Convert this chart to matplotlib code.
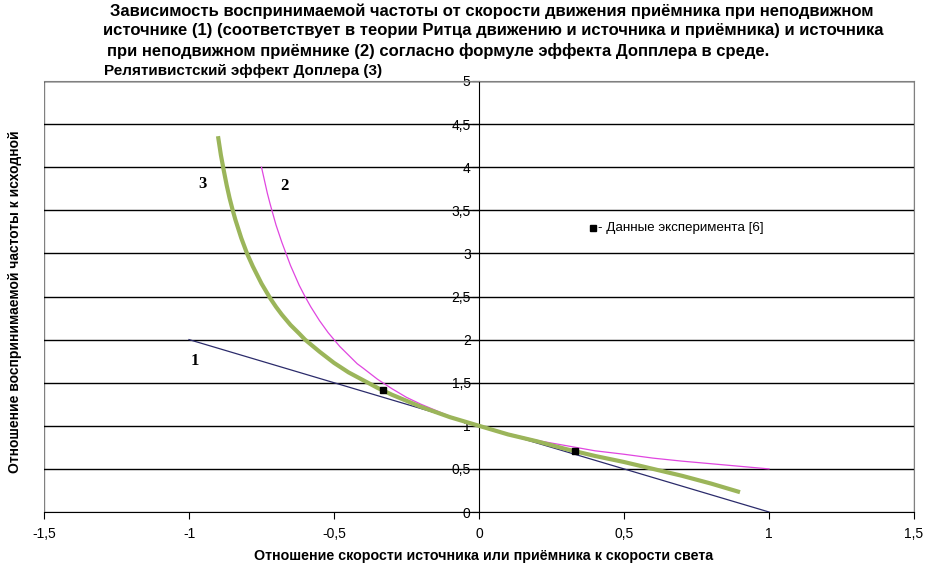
import matplotlib
matplotlib.use('Agg')
import matplotlib.pyplot as plt
from matplotlib.patches import Rectangle
from matplotlib.ticker import FuncFormatter

# values
# (1) moving receiver, source at rest
x1 = [-1.0, 1.0]
y1 = [2.0, 0.0]
# (2) moving source, receiver at rest
x2 = [-0.75, -0.74, -0.73, -0.72, -0.7, -0.68, -0.65, -0.62, -0.6, -0.58, -0.55, -0.52,
      -0.5, -0.48, -0.45, -0.42, -0.4, -0.35, -0.3, -0.25, -0.2, -0.15, -0.1, 0.0,
      0.1, 0.2, 0.3, 0.4, 0.5, 0.6, 0.7, 0.8, 0.9, 1.0]
y2 = [4.0, 3.85, 3.7, 3.57, 3.33, 3.13, 2.86, 2.63, 2.5, 2.38, 2.22, 2.08,
      2.0, 1.92, 1.82, 1.72, 1.67, 1.54, 1.43, 1.33, 1.25, 1.18, 1.11, 1.0,
      0.91, 0.83, 0.77, 0.71, 0.67, 0.625, 0.59, 0.56, 0.53, 0.5]
# (3) relativistic
x3 = [-0.9, -0.89, -0.88, -0.87, -0.86, -0.85, -0.84, -0.82, -0.8, -0.78, -0.75, -0.72,
      -0.7, -0.68, -0.65, -0.62, -0.6, -0.55, -0.5, -0.45, -0.4, -0.35, -0.3, -0.25,
      -0.2, -0.15, -0.1, 0.0, 0.1, 0.2, 0.3, 0.4, 0.5, 0.6, 0.7, 0.8, 0.9]
y3 = [4.36, 4.14, 3.96, 3.79, 3.64, 3.51, 3.39, 3.18, 3.0, 2.85, 2.65, 2.48,
      2.38, 2.29, 2.17, 2.07, 2.0, 1.86, 1.73, 1.62, 1.53, 1.44, 1.36, 1.29,
      1.22, 1.16, 1.1, 1.0, 0.9, 0.82, 0.73, 0.65, 0.58, 0.5, 0.42, 0.33, 0.23]
# experiment points
xe = [-0.33, 0.33]
ye = [1.42, 0.71]

xticks = [-1.5, -1, -0.5, 0, 0.5, 1, 1.5]
yticks = [0, 0.5, 1, 1.5, 2, 2.5, 3, 3.5, 4, 4.5, 5]

narrow = ['Liberation Sans Narrow', 'Liberation Sans', 'DejaVu Sans']
plt.rcParams['font.family'] = ['Liberation Sans', 'DejaVu Sans']

fig = plt.figure(figsize=(9.34, 5.68), dpi=100)
ax = fig.add_axes([44 / 934, 1 - 512 / 568, 870 / 934, 431 / 568])

for y in yticks[1:]:
    ax.axhline(y, color='black', lw=1, zorder=1)

ax.plot(x1, y1, color='#2b2b6b', lw=0.9, zorder=3)
ax.plot(x2, y2, color='#e046e0', lw=0.9, zorder=3)
ax.plot(x3, y3, color='#9bb55a', lw=3, zorder=4, solid_capstyle='butt')
ax.plot(xe, ye, 's', color='black', ms=4.5, zorder=5)

ax.text(-0.98, 1.75, '1', family='Liberation Serif', fontweight='bold', fontsize=12, ha='center', va='center')
ax.text(-0.67, 3.78, '2', family='Liberation Serif', fontweight='bold', fontsize=12, ha='center', va='center')
ax.text(-0.955, 3.8, '3', family='Liberation Serif', fontweight='bold', fontsize=12, ha='center', va='center')

ax.plot([0.392], [3.29], 's', color='black', ms=3.8)
ax.text(0.41, 3.29, '- Данные эксперимента [6]', fontsize=9.6, va='center', ha='left')

ax.set_xlim(-1.5, 1.5)
ax.set_ylim(0, 5)
ax.set_xticks(xticks)
ax.set_yticks(yticks)
fmt = FuncFormatter(lambda v, p: ('%g' % v).replace('.', ','))
ax.xaxis.set_major_formatter(fmt)
ax.yaxis.set_major_formatter(fmt)
ax.spines['left'].set_position(('data', 0))
ax.spines['top'].set_color('#808080')
ax.spines['right'].set_color('#808080')
ax.add_patch(Rectangle((0, 0), 1, 1, transform=ax.transAxes, fill=False,
                       edgecolor='#808080', lw=1, zorder=0))
ax.tick_params(axis='both', direction='out', length=5, labelsize=10)
ax.tick_params(axis='y', pad=1)
ax.tick_params(axis='x', pad=6)

fig.text(484 / 934, 1 - 556 / 568, 'Отношение скорости источника или приёмника к скорости света',
         family=narrow, fontweight='bold', fontsize=10.3, ha='center', va='center')
fig.text(15 / 934, 1 - 302 / 568, 'Отношение воспринимаемой частоты к исходной',
         fontweight='bold', fontsize=10, rotation=90, ha='center', va='center')

title = ['Зависимость воспринимаемой частоты от скорости движения приёмника при неподвижном',
         'источнике (1) (соответствует в теории Ритца движению и источника и приёмника) и источника',
         'при неподвижном приёмнике (2) согласно формуле эффекта Допплера в среде.']
title_x = [110, 103, 107]
for i, line in enumerate(title):
    fig.text(title_x[i] / 934, 1 - (11 + 20 * i) / 568, line, family=narrow, fontweight='bold',
             fontsize=12, ha='left', va='center')
fig.text(104 / 934, 1 - 71 / 568, 'Релятивистский эффект Доплера (3)', family=narrow,
         fontweight='bold', fontsize=11, ha='left', va='center')

fig.savefig('out.png', dpi=100)
